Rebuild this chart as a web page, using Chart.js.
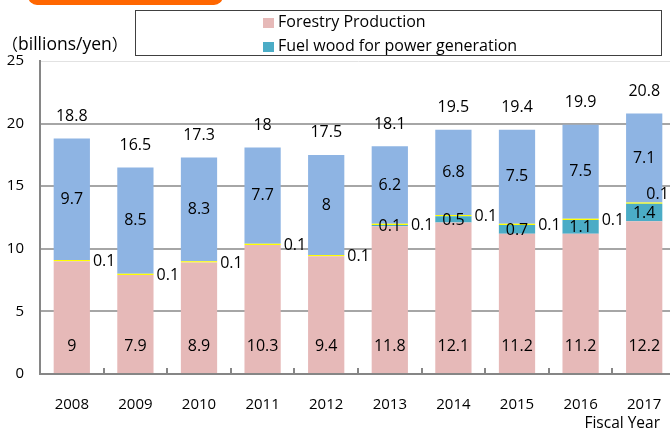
<!DOCTYPE html>
<html>
<head>
<meta charset="utf-8">
<script src="https://cdn.jsdelivr.net/npm/chart.js@4.4.1/dist/chart.umd.min.js"></script>
<style>
    body { margin: 0; width: 670px; height: 433px; overflow: hidden; background: #fff; position: relative; font-family: "Open Sans", sans-serif; }
    #wrap { position: absolute; left: 0; top: 0; width: 690px; height: 433px; }
    .tab { position: absolute; left: 28px; top: -20px; width: 195px; height: 25px; background: #ff6600; border-radius: 0 0 9px 9px; }
    .legend { position: absolute; left: 135px; top: 10px; width: 525px; height: 44px; border: 1.5px solid #404040; }
    .legend div { position: absolute; left: 127px; font-size: 16px; line-height: 20px; color: #000; white-space: nowrap; }
    .legend span { display: inline-block; width: 11px; height: 10px; margin-right: 4px; vertical-align: -1px; }
    .unit { position: absolute; left: 2px; top: 33px; font-size: 17.5px; line-height: 20px; }
    .unit b { font-weight: normal; font-family: "Noto Sans CJK JP", sans-serif; font-size: 16px; }
    .xtitle { position: absolute; right: 10px; top: 412px; font-size: 15.5px; line-height: 20px; }
</style>
</head>
<body>
<div id="wrap"><canvas id="chart" width="690" height="433"></canvas></div>
<div class="tab"></div>
<div class="legend" id="legend"></div>
<div class="unit"><b>（</b>billions/yen<b>）</b></div>
<div class="xtitle">Fiscal Year</div>
<script>
// values
const years = ['2008', '2009', '2010', '2011', '2012', '2013', '2014', '2015', '2016', '2017'];
const forestry = [9, 7.9, 8.9, 10.3, 9.4, 11.8, 12.1, 11.2, 11.2, 12.2];
const fuelWood = [0, 0, 0, 0, 0, 0.1, 0.5, 0.7, 1.1, 1.4];
const otherSmall = [0.1, 0.1, 0.1, 0.1, 0.1, 0.1, 0.1, 0.1, 0.1, 0.1];
const otherLarge = [9.7, 8.5, 8.3, 7.7, 8, 6.2, 6.8, 7.5, 7.5, 7.1];
const totals = [18.8, 16.5, 17.3, 18, 17.5, 18.1, 19.5, 19.4, 19.9, 20.8];
const yTicks = [0, 5, 10, 15, 20, 25];

const FONT = '16px "Open Sans", sans-serif';

// legend box (only the two named series are listed)
const legendItems = [
    { label: 'Forestry Production', color: '#e6b9b8' },
    { label: 'Fuel wood for power generation', color: '#4bacc6' }
];
document.getElementById('legend').innerHTML = legendItems.map((item, i) =>
    `<div style="top:${i * 24}px"><span style="background:${item.color}"></span>${item.label}</div>`
).join('');

// draws the value labels and the small inner ticks on the x axis
const barLabels = {
    id: 'barLabels',
    afterDatasetsDraw(chart) {
        const ctx = chart.ctx;
        const xs = chart.scales.x;
        const base = chart.scales.y.getPixelForValue(0);
        const last = years.length - 1;

        ctx.save();
        // tick marks between categories
        ctx.strokeStyle = '#868686';
        ctx.lineWidth = 2;
        const step = (xs.right - xs.left) / years.length;
        for (let i = 1; i < years.length; i++) {
            const x = Math.round(xs.left + step * i);
            ctx.beginPath();
            ctx.moveTo(x, base);
            ctx.lineTo(x, base - 6);
            ctx.stroke();
        }

        ctx.font = FONT;
        ctx.fillStyle = '#000';
        ctx.textBaseline = 'middle';

        const pink = chart.getDatasetMeta(0).data;
        const teal = chart.getDatasetMeta(1).data;
        const yellow = chart.getDatasetMeta(2).data;
        const blue = chart.getDatasetMeta(3).data;

        years.forEach((_, i) => {
            ctx.textAlign = 'center';
            ctx.fillText(String(forestry[i]), pink[i].x, base - 28);
            ctx.fillText(String(otherLarge[i]), blue[i].x, blue[i].y + (blue[i].base - blue[i].y) / 2);
            ctx.fillText(String(totals[i]), blue[i].x, blue[i].y - 22);
            if (fuelWood[i] > 0) {
                ctx.fillText(String(fuelWood[i]), teal[i].x, (teal[i].y + teal[i].base) / 2 + 1);
            }
            ctx.textAlign = 'left';
            const right = yellow[i].x + yellow[i].width / 2;
            if (i === last) {
                // no room on the right edge, so it sits above the line
                ctx.fillText(String(otherSmall[i]), right - 16, yellow[i].y - 8);
            } else {
                ctx.fillText(String(otherSmall[i]), right + 3, (yellow[i].y + yellow[i].base) / 2 + 1);
            }
        });
        ctx.restore();
    }
};

new Chart(document.getElementById('chart'), {
    type: 'bar',
    data: {
        labels: years,
        datasets: [
            { label: 'Forestry Production', data: forestry, backgroundColor: '#e6b9b8' },
            { label: 'Fuel wood for power generation', data: fuelWood, backgroundColor: '#4bacc6' },
            { label: 'Other (small)', data: otherSmall, backgroundColor: '#ffff00' },
            { label: 'Other', data: otherLarge, backgroundColor: '#8eb4e3' }
        ]
    },
    options: {
        responsive: false,
        animation: false,
        devicePixelRatio: 1,
        layout: { padding: { top: 61, right: 14, left: 0, bottom: 0 } },
        datasets: { bar: { barPercentage: 0.57, categoryPercentage: 1, borderWidth: 0 } },
        plugins: { legend: { display: false }, tooltip: { enabled: false } },
        scales: {
            x: {
                stacked: true,
                grid: { display: false },
                border: { color: '#868686', width: 2 },
                ticks: { color: '#000', font: { family: '"Open Sans"', size: 15 }, padding: 14, maxRotation: 0 },
                afterFit(scale) { scale.height = 59; }
            },
            y: {
                stacked: true,
                min: yTicks[0],
                max: yTicks[yTicks.length - 1],
                afterBuildTicks(scale) { scale.ticks = yTicks.map(v => ({ value: v })); },
                grid: {
                    drawTicks: false,
                    color: ctx => ctx.tick && ctx.tick.value === 25 ? '#e2e2e2' : '#a6a6a6',
                    lineWidth: ctx => ctx.tick && ctx.tick.value === 25 ? 1 : 2
                },
                border: { color: '#868686', width: 2 },
                ticks: { color: '#000', font: { family: '"Open Sans"', size: 15 }, padding: 16 },
                afterFit(scale) { scale.width = 40; }
            }
        }
    },
    plugins: [barLabels]
});
</script>
</body>
</html>
